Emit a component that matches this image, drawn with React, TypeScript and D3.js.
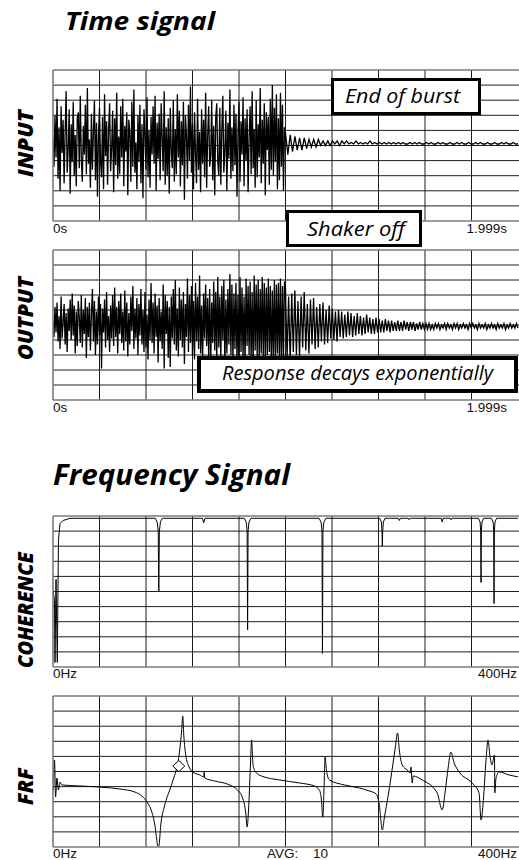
import React from 'react';
import * as d3 from 'd3';

// ---------- DATA ----------
// Time signals, values in tenths of a grid division (domain -50..50)
const inputBurst = [
  5, -14, 20, -8, 31, -22, 12, -30, 26, -5, 17, -25, 9, 36, -18, -3, 24, -32, 14, -11,
  29, -20, 7, -27, 18, 22, -15, 33, -9, -24, 13, -6, 27, -19, 38, -12, 4, -28, 21, -16,
  10, 30, -23, 15, -34, 8, 25, -10, -21, 19, -29, 34, -7, 16, -26, 11, 28, -17, -2, 23,
  -31, 18, -13, 35, -22, 6, -19, 26, -8, 31, -27, 13, -4, 22, -33, 17, 9, -24, 29, -14,
  37, -18, 2, -29, 20, -11, 27, -25, 14, -35, 24, 8, -16, 32, -21, 10, -28, 19, -6, 26,
  -12, 33, -30, 15, -9, 21, -23, 28, 5, -17, 36, -26, 12, -20, 18, -32, 25, -3, -15, 30,
  -24, 11, -19, 34, -8, 23, -27, 16, -13, 29, -36, 20, 7, -22, 27, -10, 39, -18, 14, -29,
  22, -5, -25, 31, -16, 9, -31, 24, -12, 17, -21, 35, -28, 6, 26, -14, -7, 30, -23, 13,
  -33, 19, 28, -11, -20, 25, -26, 10, 33, -18, -4, 23, -30, 15, -9, 37, -22, 12, -17, 27,
  -13, 21, -34, 8, 29, -24, 16, -6, 32, -27, 18, -10, 24, -31, 5, 26, -19, 36, -15, 11,
  -28, 30, -21, 14, -8, 38, -25, 17, -12, 28, -33, 22, -3, 19, -26, 31, -16, 40, -20, 25,
  -11, 34, -29, 18, -23, 35, -14, 27, -30, 12,
];
const inputDecay = [
  8, -6, 7, -4, 6, -3, 5, -3, 5, -2, 4, -1, 4, -1, 4, 0, 3, 0, 3, 0,
  3, 1, 3, 0, 3, 1, 3, 1, 2, 1, 3, 1, 2, 1, 2, 1, 3, 1, 2, 1,
  2, 1, 2, 1, 2, 1, 2, 1, 2, 1, 2, 1, 1, 2, 1, 2, 1, 2, 1, 1,
  2, 1, 2, 1, 1, 2, 1, 2, 1, 1, 2, 1, 1, 2, 1, 2, 1, 1, 2, 1,
  1, 2, 1, 2, 1, 1, 2, 1, 1, 2, 1, 1, 2, 1, 2, 1, 1, 2, 1, 1,
];
const outputBurst = [
  3, -8, 12, -5, 15, -11, 6, -16, 19, -9, 2, 14, -13, 8, -18, 11, -4, 17, -10, 21,
  -7, 13, -19, 9, -14, 16, 5, -12, 20, -15, 10, -6, 18, -22, 12, -8, 15, -17, 7, 24,
  -11, 16, -20, 9, -13, 19, -7, 14, -29, 11, -5, 17, -15, 22, -10, 6, -18, 13, -9, 20,
  -14, 25, -8, 12, -19, 16, -6, 21, -12, 9, -17, 23, -11, 15, -21, 8, -13, 19, -4, 26,
  -16, 11, -9, 18, -20, 14, -7, 24, -13, 10, -18, 22, -15, 7, -23, 17, -10, 28, -12, 15,
  -19, 21, -8, 13, -25, 18, -11, 9, -16, 27, -29, 20, -6, 16, -22, 12, -28, 19, -9, 24,
  -13, 30, -17, 11, -21, 25, -10, 17, -15, 22, -26, 14, -8, 31, -18, 20, -12, 26, -20, 16,
  -23, 28, -11, 19, -16, 33, -19, 13, -24, 21, -9, 27, -14, 18, -21, 24, -27, 15, -12, 29,
  -17, 22, -25, 32, -15, 19, -22, 26, -10, 30, -28, 17, -19, 24, -13, 34, -20, 27, -24, 21,
  -16, 28, -26, 20, -30, 32, -18, 25, -22, 19, -27, 31, -14, 26, -20, 29, -24, 22, -28, 33,
  -17, 27, -21, 30, -25, 24, -19, 32, -23, 28, -26, 25, -20, 31, -18, 26, -29, 23, -22, 30,
  -25, 27, -19, 28, -24, 31, -27, 26, -22, 29,
];
const outputDecay = [
  24, -22, 19, -25, 21, -18, 23, -20, 16, -21, 19, -15, 22, -17, 14, -19, 17, -13, 18, -16, 12, -15, 14, -11, 15, -13, 10, -12, 13, -9,
  11, -10, 9, -11, 10, -8, 9, -9, 7, -8, 9, -7, 8, -8, 6, -7, 8, -6, 6, -7, 5, -6, 7, -5, 5, -6, 4, -6, 5, -5,
  4, -5, 3, -5, 4, -4, 3, -5, 3, -4, 2, -4, 3, -4, 2, -4, 3, -3, 2, -4, 2, -3, 2, -4, 1, -3, 2, -3, 1, -3,
  1, -3, 1, -3, 0, -3, 1, -2, 1, -3, 0, -2, 1, -3, 1, -2, 0, -3, 1, -2, 1, -3, 0, -2, 1, -2, 0, -3, 1, -2,
  1, -2, 0, -3, 1, -2, 0, -2, 1, -3, 0, -2, 1, -2, 0, -3, 1, -2, 0, -2, 1, -3, 0, -2, 1, -2, 0, -2, 1, -2,
];
const timeTicks = ['0s', '1.999s'];
const freqTicks = ['0Hz', '400Hz'];
const avgText = ['AVG:', '10'];

// Coherence: [frequency Hz, coherence 0..1]
const coherence: [number, number][] = [
  [0, 0.51], [1.3, 0.44], [1.7, 0.03], [2.6, 0.58], [3.7, 0.03], [4.7, 0.84], [6.0, 0.95], [8.6, 0.97], [14.6, 0.985],
  [88, 0.985], [89.6, 0.96], [90.5, 0.9], [91, 0.5], [91.5, 0.9], [92.4, 0.96], [94, 0.985],
  [128.5, 0.985], [129.6, 0.955], [130.7, 0.985],
  [164.5, 0.985], [166.2, 0.96], [167, 0.9], [167.4, 0.245], [167.8, 0.9], [168.6, 0.96], [170.3, 0.985],
  [228.8, 0.985], [230.6, 0.96], [231.4, 0.9], [231.8, 0.09], [232.2, 0.9], [233, 0.96], [234.8, 0.985],
  [281, 0.985], [282.5, 0.96], [283, 0.9], [283.3, 0.8], [283.6, 0.9], [284.2, 0.96], [285.6, 0.985],
  [297, 0.985], [297.9, 0.97], [298.8, 0.985],
  [305.6, 0.985], [306.4, 0.975], [307.2, 0.985],
  [334, 0.985], [334.8, 0.96], [335.6, 0.985],
  [341.8, 0.985], [342.5, 0.975], [343.2, 0.985],
  [366, 0.985], [367.4, 0.96], [367.9, 0.9], [368.2, 0.56], [368.5, 0.9], [369, 0.96], [370.4, 0.985],
  [377.2, 0.985], [378.6, 0.96], [379.1, 0.9], [379.4, 0.42], [379.7, 0.9], [380.2, 0.96], [381.6, 0.985],
  [400, 0.985],
];

// FRF: [frequency Hz, level 0..100 (bottom..top of grid)]
const frf: [number, number][] = [
  [0.4, 37.7], [1.3, 57.6], [2.2, 33.1], [3.4, 45.7], [4.7, 37.7], [6.0, 43.0], [7.7, 41.1], [23.2, 40.4],
  [40.3, 39.7], [57.5, 38.4], [70.4, 36.4], [76.4, 33.8], [81.5, 29.1], [85.0, 23.2], [87.6, 14.6], [89.3, 4.6],
  [90.1, 0.5], [91.0, 0.5], [92.7, 14.6], [96.1, 27.8], [100.4, 37.7], [103.9, 45.7], [106.4, 52.3], [109.0, 64.2],
  [110.7, 77.5], [111.6, 86.8], [112.5, 74.2], [114.2, 60.9], [116.7, 53.6], [120.2, 49.7], [126.2, 47.7],
  [129.6, 46.4], [130.0, 49.7], [130.5, 45.7], [139.1, 43.7], [152.0, 41.1], [158.8, 37.7], [163.1, 32.5],
  [165.7, 23.2], [167.0, 13.2], [168.2, 24.5], [170.0, 57.6], [170.8, 70.9], [172.1, 54.3], [174.3, 49.7],
  [179.4, 47.0], [194.9, 44.4], [212.0, 42.4], [224.9, 40.4], [229.2, 37.7], [230.9, 31.1], [232.1, 19.9],
  [233.1, 37.7], [234.1, 59.6], [235.2, 51.0], [237.8, 44.4], [250.7, 41.1], [263.5, 39.1], [272.1, 37.1],
  [278.1, 35.1], [280.7, 27.8], [283.3, 11.3], [285.0, 19.2], [288.4, 34.4], [291.9, 52.3], [294.4, 65.6],
  [296.4, 75.5], [297.9, 64.2], [300.4, 54.3], [304.7, 51.0], [307.3, 49.0], [307.9, 53.0], [309.0, 42.4],
  [309.9, 47.0], [317.6, 44.4], [330.5, 35.8], [334.8, 24.5], [337.3, 36.4], [339.9, 52.3], [342.2, 62.9],
  [345.1, 55.6], [349.4, 49.7], [360.5, 42.4], [366.5, 35.8], [368.2, 17.9], [369.9, 27.8], [372.5, 57.6],
  [374.2, 70.9], [375.9, 60.3], [377.6, 54.3], [379.8, 60.9], [380.0, 35.8], [381.1, 45.7], [383.7, 49.7],
  [392.3, 47.7], [400, 46.4],
];
const marker: [number, number] = [108.2, 53.6];

// ---------- LAYOUT ----------
const W = 519;
const H = 860;
const X0 = 53;
const X1 = 518;
const GRID = '#1c1c1c';
const FRAME = '#7a7a7a';
const LABEL_FONT = '"Liberation Sans", Arial, sans-serif';
const HAND_FONT = '"Open Sans", "DejaVu Sans", sans-serif';

const tScale = d3.scaleLinear().domain([0, 2]).range([X0, X1]);
const fScale = d3.scaleLinear().domain([0, 400]).range([X0, X1]);

function Grid({ y0, y1, id }: { y0: number; y1: number; id: string }) {
  const ys = d3.range(11).map((i) => y0 + ((y1 - y0) * i) / 10);
  const xs = d3.range(1, 10).map((i) => tScale(i * 0.2));
  return (
    <g>
      <clipPath id={id}>
        <rect x={X0} y={y0} width={W - X0} height={y1 - y0} />
      </clipPath>
      {ys.slice(1, 10).map((y, i) => (
        <line key={'h' + i} x1={X0} x2={W} y1={y} y2={y} stroke={GRID} strokeWidth={1} />
      ))}
      {xs.map((x, i) => (
        <line key={'v' + i} x1={x} x2={x} y1={y0} y2={y1} stroke={GRID} strokeWidth={1} />
      ))}
    </g>
  );
}

function Frame({ y0, y1 }: { y0: number; y1: number }) {
  return (
    <g stroke={FRAME} strokeWidth={1.6} fill="none">
      <line x1={X0} x2={W} y1={y0} y2={y0} />
      <line x1={X0} x2={W} y1={y1} y2={y1} />
      <line x1={X0} x2={X0} y1={y0} y2={y1} />
    </g>
  );
}

function timeSeries(burst: number[], decay: number[]): [number, number][] {
  const a = burst.map((v, i) => [i / burst.length, v] as [number, number]);
  const b = decay.map((v, i) => [1 + i / (decay.length - 1), v] as [number, number]);
  return [...a, ...b];
}

function YLabel({ text, cy, len }: { text: string; cy: number; len: number }) {
  return (
    <text
      transform={`translate(33,${cy}) rotate(-90)`}
      textAnchor="middle"
      fontFamily={HAND_FONT}
      fontStyle="italic"
      fontWeight={800}
      fontSize={21}
      textLength={len}
      lengthAdjust="spacingAndGlyphs"
      fill="#000"
    >
      {text}
    </text>
  );
}

function NoteBox({ x0, y0, x1, y1, sw, text, tx, ty, tlen }: any) {
  return (
    <g>
      <rect x={x0 + sw / 2} y={y0 + sw / 2} width={x1 - x0 - sw} height={y1 - y0 - sw} fill="#fff" stroke="#000" strokeWidth={sw} />
      <text x={tx} y={ty} fontFamily={HAND_FONT} fontStyle="italic" fontSize={20} textLength={tlen} lengthAdjust="spacingAndGlyphs" fill="#000">
        {text}
      </text>
    </g>
  );
}

function AxisText({ x, y, anchor, children }: any) {
  return (
    <text x={x} y={y} textAnchor={anchor} fontFamily={LABEL_FONT} fontSize={13.5} fill="#111">
      {children}
    </text>
  );
}

export default function App() {
  const P1 = [70, 221];
  const P2 = [250, 400];
  const P3 = [516, 667];
  const P4 = [696, 847];

  const yIn = d3.scaleLinear().domain([-50, 50]).range([P1[1], P1[0]]);
  const yOut = d3.scaleLinear().domain([-50, 50]).range([P2[1], P2[0]]);
  const yCoh = d3.scaleLinear().domain([0, 1]).range([P3[1], P3[0]]);
  const yFrf = d3.scaleLinear().domain([0, 100]).range([P4[1], P4[0]]);

  const inLine = d3.line<[number, number]>().x((d) => tScale(d[0])).y((d) => yIn(d[1]));
  const outLine = d3.line<[number, number]>().x((d) => tScale(d[0])).y((d) => yOut(d[1]));
  const cohLine = d3.line<[number, number]>().x((d) => fScale(d[0])).y((d) => yCoh(d[1]));
  const frfLine = d3
    .line<[number, number]>()
    .x((d) => fScale(d[0]))
    .y((d) => yFrf(d[1]))
    .curve(d3.curveMonotoneX);

  const mx = fScale(marker[0]);
  const my = yFrf(marker[1]);

  return (
    <svg width={W} height={H} style={{ position: 'absolute', left: 0, top: 0, background: '#fff' }}>
      <rect x={0} y={0} width={W} height={H} fill="#fff" />
      <text x={65} y={30} fontFamily={HAND_FONT} fontStyle="italic" fontWeight={700} fontSize={25} textLength={150} lengthAdjust="spacingAndGlyphs">
        Time signal
      </text>

      {/* INPUT */}
      <Grid y0={P1[0]} y1={P1[1]} id="c1" />
      <path d={inLine(timeSeries(inputBurst, inputDecay)) || ''} fill="none" stroke="#000" strokeWidth={1.3} strokeLinejoin="miter" clipPath="url(#c1)" />
      <Frame y0={P1[0]} y1={P1[1]} />
      <YLabel text="INPUT" cy={143.5} len={67} />
      <AxisText x={X0} y={233} anchor="start">{timeTicks[0]}</AxisText>
      <AxisText x={507} y={233} anchor="end">{timeTicks[1]}</AxisText>

      {/* OUTPUT */}
      <Grid y0={P2[0]} y1={P2[1]} id="c2" />
      <path d={outLine(timeSeries(outputBurst, outputDecay)) || ''} fill="none" stroke="#000" strokeWidth={1.3} strokeLinejoin="miter" clipPath="url(#c2)" />
      <Frame y0={P2[0]} y1={P2[1]} />
      <YLabel text="OUTPUT" cy={318.5} len={83} />
      <AxisText x={X0} y={412} anchor="start">{timeTicks[0]}</AxisText>
      <AxisText x={507} y={412} anchor="end">{timeTicks[1]}</AxisText>

      <NoteBox x0={331} y0={78} x1={481} y1={115} sw={3} text="End of burst" tx={345} ty={103} tlen={115} />
      <NoteBox x0={286} y0={210} x1={422} y1={247} sw={3} text="Shaker off" tx={307} ty={236} tlen={98} />
      <NoteBox x0={197} y0={356} x1={518} y1={393} sw={4} text="Response decays exponentially" tx={222} ty={380} tlen={271} />

      <text x={53} y={485} fontFamily={HAND_FONT} fontStyle="italic" fontWeight={700} fontSize={29} textLength={237} lengthAdjust="spacingAndGlyphs">
        Frequency Signal
      </text>

      {/* COHERENCE */}
      <Grid y0={P3[0]} y1={P3[1]} id="c3" />
      <path d={cohLine(coherence) || ''} fill="none" stroke="#000" strokeWidth={1} clipPath="url(#c3)" />
      <Frame y0={P3[0]} y1={P3[1]} />
      <YLabel text="COHERENCE" cy={610} len={116} />
      <AxisText x={X0} y={678} anchor="start">{freqTicks[0]}</AxisText>
      <AxisText x={517} y={678} anchor="end">{freqTicks[1]}</AxisText>

      {/* FRF */}
      <Grid y0={P4[0]} y1={P4[1]} id="c4" />
      <path d={frfLine(frf) || ''} fill="none" stroke="#000" strokeWidth={1} clipPath="url(#c4)" />
      <path d={`M${mx},${my - 5.5}L${mx + 6},${my}L${mx},${my + 5.5}L${mx - 6},${my}Z`} fill="#fff" stroke="#000" strokeWidth={1} />
      <Frame y0={P4[0]} y1={P4[1]} />
      <YLabel text="FRF" cy={786.5} len={37} />
      <AxisText x={X0} y={858} anchor="start">{freqTicks[0]}</AxisText>
      <AxisText x={267} y={858} anchor="start">{avgText[0]}</AxisText>
      <AxisText x={313} y={858} anchor="start">{avgText[1]}</AxisText>
      <AxisText x={517} y={858} anchor="end">{freqTicks[1]}</AxisText>
    </svg>
  );
}
